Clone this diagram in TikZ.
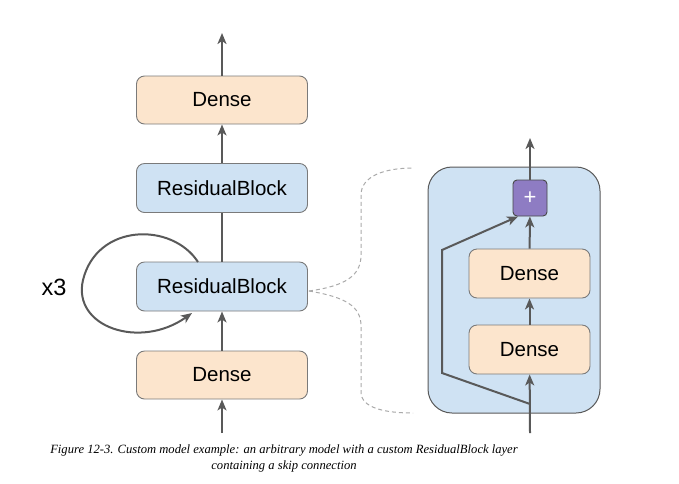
\documentclass[tikz,border=0pt]{standalone}
\usepackage{fontspec}
\setmainfont{Liberation Sans}
\newfontfamily\capfont{Liberation Serif}
\usetikzlibrary{arrows.meta,calc}
\definecolor{peach}{HTML}{FCE5CD}
\definecolor{lblue}{HTML}{CFE2F3}
\definecolor{purp}{HTML}{8E7CC3}
\definecolor{edge}{HTML}{595959}
\definecolor{dgray}{HTML}{AAAAAA}
\tikzset{
  box/.style={draw=edge!80, line width=0.9pt, rounded corners=8pt, minimum width=171pt, inner sep=0pt, font=\fontsize{20.5}{23}\selectfont},
  densebox/.style={box, fill=peach, minimum height=48pt},
  resbox/.style={box, fill=lblue, minimum height=49pt},
  innerdense/.style={box, fill=peach, minimum width=121pt, minimum height=49pt},
  conn/.style={draw=edge, line width=2pt, -{Stealth[length=11pt,width=9pt,inset=3pt]}},
  plainconn/.style={draw=edge, line width=2pt},
  dashconn/.style={draw=dgray, line width=1pt, dashed, dash pattern=on 4pt off 3pt},
}
\begin{document}
\begin{tikzpicture}[x=1pt,y=-1pt]
\useasboundingbox (0,0) rectangle (679,483);
% left column
\node[densebox] (d2) at (222,100) {Dense};
\node[resbox] (r2) at (222,188) {ResidualBlock};
\node[resbox] (r1) at (222,286.5) {ResidualBlock};
\node[densebox] (d1) at (222,375) {Dense};
\coordinate (ltop) at (222,33);
\coordinate (lbot) at (222,433);
\draw[conn] (lbot) -- (d1);
\draw[conn] (d1) -- (r1);
\draw[plainconn] (r1) -- (r2);
\draw[conn] (r2) -- (d2);
\draw[conn] (d2) -- (ltop);
% loop
\coordinate (lpS) at (198,262);
\coordinate (lpE) at (192,313);
\draw[conn] (lpS) .. controls (172,222) and (97,223) .. (83,280) .. controls (72,327) and (140,350) .. (lpE);
\node[font=\fontsize{23.5}{26}\selectfont] (x3) at (54,287) {x3};
% right detail
\node[draw=edge, line width=1pt, fill=lblue, rounded corners=24pt, minimum width=172pt, minimum height=246pt, inner sep=0pt] (big) at (514,290) {};
\node[draw=edge!80!black, line width=0.9pt, fill=purp, rounded corners=4pt, minimum width=34pt, minimum height=36pt, inner sep=0pt, text=white, font=\fontsize{22}{22}\selectfont] (plus) at (530,198) {+};
\node[innerdense] (id2) at (529.5,273.5) {Dense};
\node[innerdense] (id1) at (529.5,349.5) {Dense};
\coordinate (rtop) at (530,138);
\coordinate (rbot) at (530,433);
\coordinate (sk0) at (530,404);
\coordinate (sk1) at (442,373);
\coordinate (sk2) at (442,250);
\draw[conn] (rbot) -- (id1);
\draw[conn] (id1) -- (id2);
\draw[conn] (id2) -- (plus);
\draw[conn] (plus) -- (rtop);
\draw[conn, line join=miter] (sk0) -- (sk1) -- (sk2) -- (plus.-123);
% dashed zoom lines
\coordinate (dt) at (413,168);
\coordinate (db) at (413,413);
\draw[dashconn] ($(r1.east)+(1,4.5)$) .. controls (345,286) and (361,276) .. (361,255) -- (361,195) .. controls (361,176) and (385,168) .. (dt);
\draw[dashconn] ($(r1.east)+(1,4.5)$) .. controls (345,297) and (361,306) .. (361,326) -- (361,392) .. controls (361,408) and (385,413) .. (db);
% caption
\node[font=\capfont\itshape\fontsize{12.6}{16}\selectfont, align=center, inner sep=0pt] (cap) at (284,458) {Figure 12-3. Custom model example: an arbitrary model with a custom ResidualBlock layer\\containing a skip connection};
\end{tikzpicture}
\end{document}
